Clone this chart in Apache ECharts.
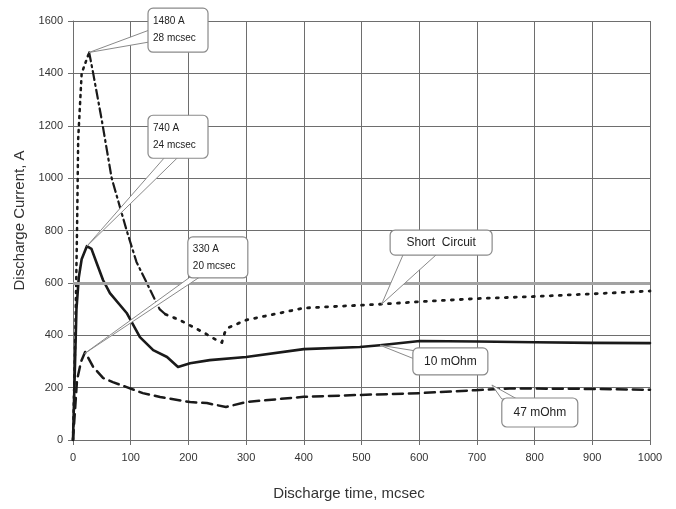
<!DOCTYPE html>
<html><head><meta charset="utf-8">
<script src="https://cdn.jsdelivr.net/npm/echarts@6/dist/echarts.min.js"></script>
<style>html,body{margin:0;padding:0;background:#fff}#c{width:676px;height:509px}</style>
</head><body><div id="c"></div>
<script>
// ---- data ----
const xTicks = [0,100,200,300,400,500,600,700,800,900,1000];
const yTicks = [0,200,400,600,800,1000,1200,1400,1600];
const shortRise = [[0,0],[4,400],[7,800],[9,1150],[15,1400],[28,1480]];
const shortFall = [[28,1480],[35,1400],[50,1220],[67,1000],[93,800],[110,680],[130,590],[150,500],[160,480]];
const shortTail = [[160,480],[185,458],[225,412],[250,380],[258,372],[263,410],[268,428],[300,458],[400,504],[537,519],[600,528],[700,540],[800,548],[900,558],[1000,569]];
const ohm10 = [[0,0],[3,250],[6,500],[10,620],[15,690],[24,740],[32,730],[41,676],[52,611],[64,561],[93,485],[116,393],[139,343],[163,317],[182,279],[203,293],[237,305],[300,317],[400,347],[497,355],[532,362],[601,378],[700,376],[800,373],[900,371],[1000,370]];
const ohm47 = [[0,0],[7,229],[14,300],[21,336],[35,279],[52,237],[69,221],[93,202],[121,179],[151,164],[203,145],[232,141],[265,126],[300,145],[400,165],[497,172],[601,179],[697,190],[757,197],[896,195],[1000,192]];
const refLevel = 600;
const callouts = [
  {lines:['1480 A','28 mcsec'], tip:[28,1480], center:[182,1565], w:60, h:44, side:'left', f:[0.5,0.77], fs:10, align:'left'},
  {lines:['740 A','24 mcsec'], tip:[24,740], center:[182,1158], w:60, h:43, side:'bottom', f:[0.28,0.5], fs:10, align:'left'},
  {lines:['330 A','20 mcsec'], tip:[20,330], center:[251,697], w:60, h:41, side:'bottom', f:[0.04,0.2], fs:10, align:'left'},
  {lines:['Short  Circuit'], tip:[535,519], center:[638,754], w:102, h:25, side:'bottom', f:[0.13,0.46], fs:12, align:'center'},
  {lines:['10 mOhm'], tip:[532,362], center:[654,300], w:75, h:27, side:'left', f:[0.1,0.4], fs:12, align:'center'},
  {lines:['47 mOhm'], tip:[726,210], center:[809,105], w:76, h:29, side:'top', f:[0.0,0.2], fs:12, align:'center'}
];

const chart = echarts.init(document.getElementById('c'));
const gridCol = '#6e6e6e';
const lineCol = '#1a1a1a';
const font = 'Liberation Sans, Arial, sans-serif';
function lineSeries(name, data, type, width){
  return {name, type:'line', data, symbol:'none', smooth:false, z:3,
    lineStyle:{color:lineCol, width, type, cap:'round', join:'round'}};
}
chart.setOption({
  animation:false,
  backgroundColor:'#fff',
  grid:{left:73, right:26, top:21, bottom:69},
  xAxis:{type:'value', min:xTicks[0], max:xTicks[xTicks.length-1], interval:100,
    name:'Discharge time, mcsec', nameLocation:'middle', nameGap:46,
    nameTextStyle:{fontFamily:font, fontSize:15, color:'#333', padding:[0,25,0,0]},
    axisLine:{lineStyle:{color:gridCol}}, axisTick:{show:true, length:5, lineStyle:{color:gridCol}},
    axisLabel:{fontFamily:font, fontSize:11, color:'#333', margin:12, formatter:v=>String(v)},
    splitLine:{show:true, lineStyle:{color:gridCol, width:1}}},
  yAxis:{type:'value', min:yTicks[0], max:yTicks[yTicks.length-1], interval:200,
    name:'Discharge Current, A', nameLocation:'middle', nameGap:42,
    nameTextStyle:{fontFamily:font, fontSize:15, color:'#333', padding:[0,0,0,20]},
    axisLine:{show:true, lineStyle:{color:gridCol}}, axisTick:{show:true, length:5, lineStyle:{color:gridCol}},
    axisLabel:{fontFamily:font, fontSize:11, color:'#333', margin:10, formatter:v=>String(v)},
    splitLine:{show:true, lineStyle:{color:gridCol, width:1}}},
  series:[
    {type:'line', data:[], z:2, markLine:{silent:true, symbol:'none', label:{show:false},
      lineStyle:{color:'#a3a3a3', width:3, type:'solid'}, data:[{yAxis:refLevel}]}},
    lineSeries('47 mOhm', ohm47, [10,6], 2.5),
    lineSeries('10 mOhm', ohm10, 'solid', 2.6),
    lineSeries('Short rise', shortRise, [2,5], 2.5),
    lineSeries('Short fall', shortFall, [9,4,2,4], 2.2),
    lineSeries('Short tail', shortTail, [2,7], 2.8)
  ]
});

function buildCallouts(){
  const g = [];
  callouts.forEach(c=>{
    const tip = chart.convertToPixel({gridIndex:0}, c.tip);
    const cen = chart.convertToPixel({gridIndex:0}, c.center);
    const x0 = cen[0]-c.w/2, y0 = cen[1]-c.h/2;
    let b1, b2;
    if(c.side==='left'){ b1=[x0+1, y0+c.h*c.f[0]]; b2=[x0+1, y0+c.h*c.f[1]]; }
    else if(c.side==='bottom'){ b1=[x0+c.w*c.f[0], y0+c.h-1]; b2=[x0+c.w*c.f[1], y0+c.h-1]; }
    else { b1=[x0+c.w*c.f[0], y0+1]; b2=[x0+c.w*c.f[1], y0+1]; }
    g.push({type:'polygon', z:50, shape:{points:[tip,b1,b2]}, style:{fill:'#fff', stroke:'#8a8a8a', lineWidth:1}});
    g.push({type:'rect', z:51, shape:{x:x0, y:y0, width:c.w, height:c.h, r:5}, style:{fill:'#fff', stroke:'#8a8a8a', lineWidth:1.2}});
    const lh = c.fs+7;
    const tx = c.align==='left' ? x0+5 : cen[0];
    const ty = cen[1] - (c.lines.length-1)*lh/2;
    c.lines.forEach((t,i)=>{
      g.push({type:'text', z:52, style:{text:t, x:tx, y:ty+i*lh, fill:'#222', font:c.fs+'px '+font,
        textAlign:c.align, textVerticalAlign:'middle'}});
    });
  });
  chart.setOption({graphic:g});
}
buildCallouts();
</script>
</body></html>
